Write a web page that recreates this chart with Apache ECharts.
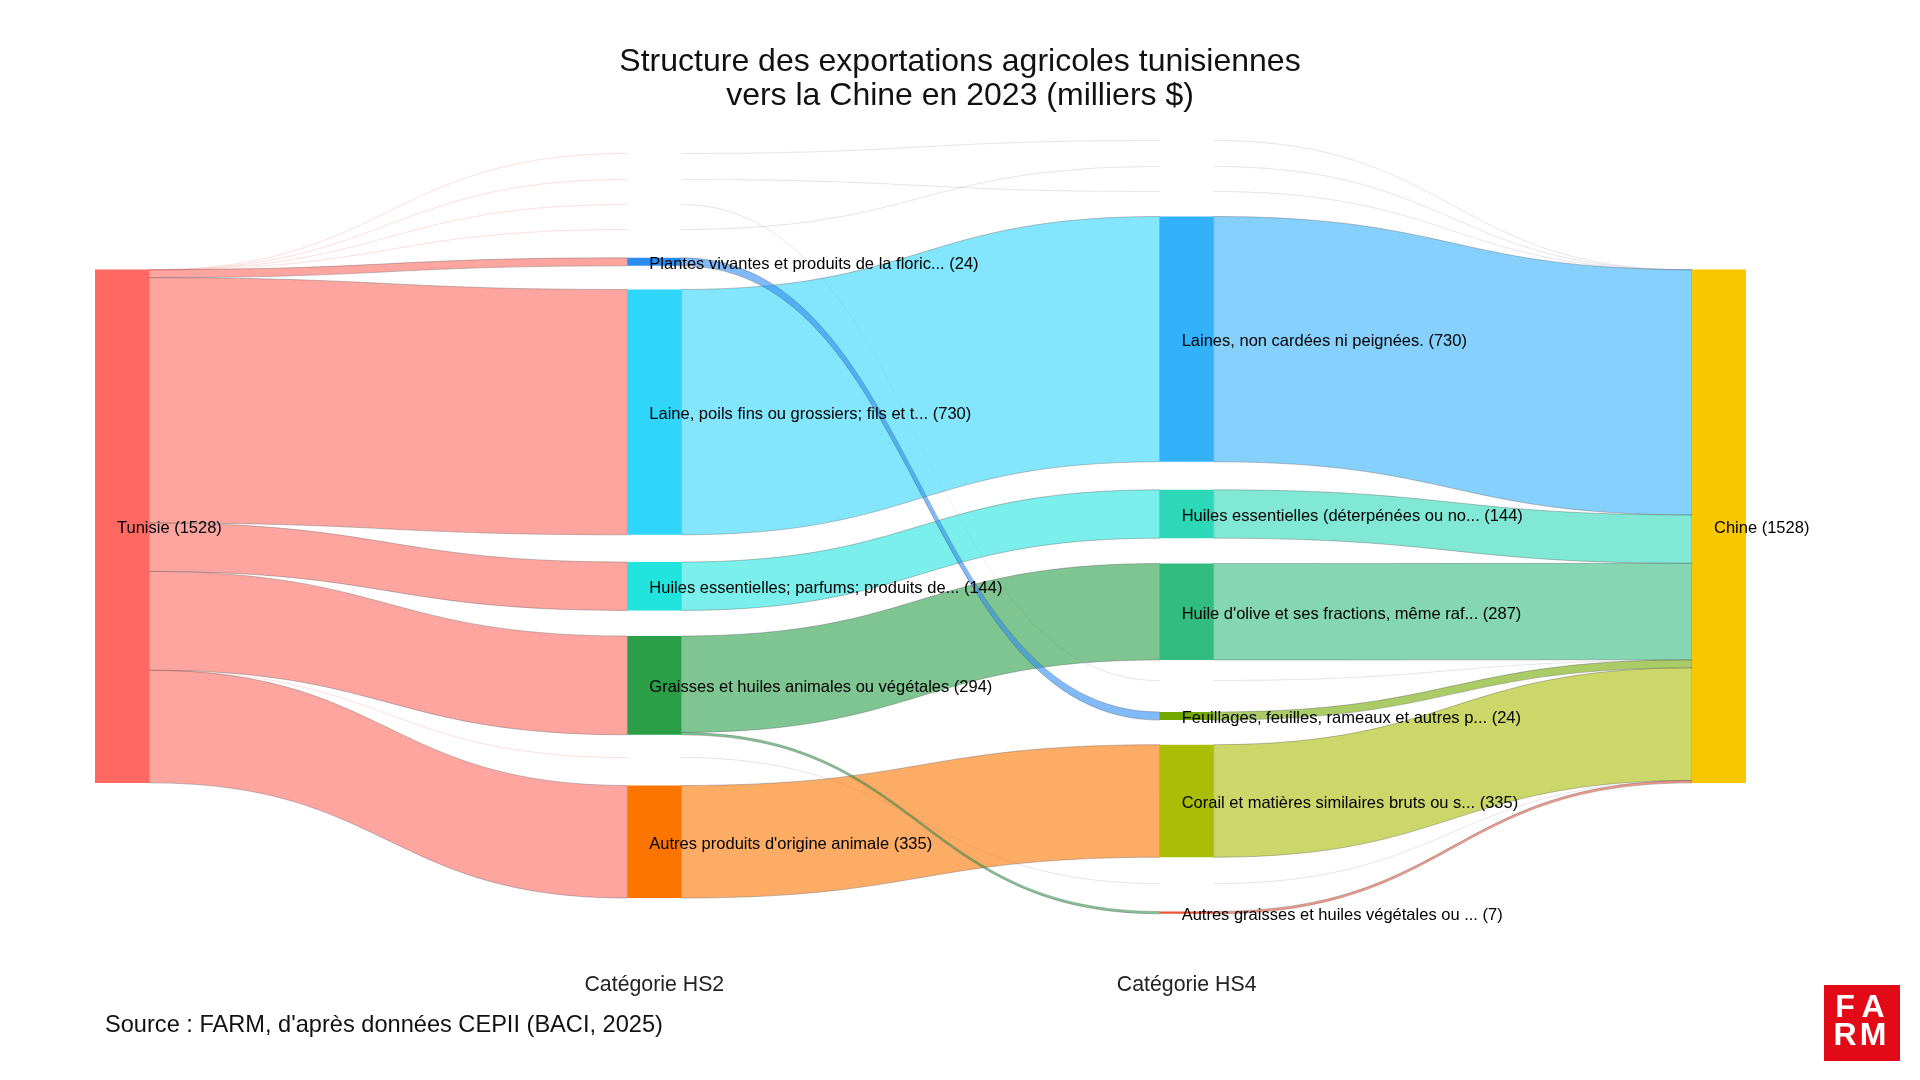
<!DOCTYPE html>
<html>
<head>
<meta charset="utf-8">
<script src="https://cdn.jsdelivr.net/npm/echarts@6/dist/echarts.min.js"></script>
<style>
html,body{margin:0;padding:0;background:#ffffff;}
#chart{width:1920px;height:1080px;}
</style>
</head>
<body>
<div id="chart"></div>
<script>
// ---------------- DATA ----------------
const titleLines = ['Structure des exportations agricoles tunisiennes', 'vers la Chine en 2023 (milliers $)'];
const originName = 'Tunisie';
const destinationName = 'Chine';
const totalValue = 1528;

const hs2Names = [
  'Plantes vivantes et produits de la floric...',
  'Laine, poils fins ou grossiers; fils et t...',
  'Huiles essentielles; parfums; produits de...',
  'Graisses et huiles animales ou végétales',
  "Autres produits d'origine animale"
];
const hs2Values = [24, 730, 144, 294, 335];

const hs4Names = [
  'Laines, non cardées ni peignées.',
  'Huiles essentielles (déterpénées ou no...',
  "Huile d'olive et ses fractions, même raf...",
  'Feuillages, feuilles, rameaux et autres p...',
  'Corail et matières similaires bruts ou s...',
  'Autres graisses et huiles végétales ou ...'
];
const hs4Values = [730, 144, 287, 24, 335, 7];

// HS2 index -> HS4 index, value (drawing order)
const hs2ToHs4 = [[1, 0, 730], [2, 1, 144], [4, 4, 335], [3, 2, 287], [0, 3, 24], [3, 5, 7]];

// near-zero flows (unlabelled)
const minorHs2 = ['hs2-a', 'hs2-b', 'hs2-c', 'hs2-d', 'hs2-e'];
const minorHs4 = ['hs4-a', 'hs4-b', 'hs4-c', 'hs4-d', 'hs4-e'];
const minorValue = 0.1;
const minorHs2ToHs4 = [[0, 0], [1, 2], [2, 3], [3, 1], [4, 4]];

const columnTitles = ['Catégorie HS2', 'Catégorie HS4'];
const sourceNote = "Source : FARM, d'après données CEPII (BACI, 2025)";
const logoLetters = [['F', 'A'], ['R', 'M']];

// ---------------- LAYOUT / STYLE ----------------
const FONT = '"Liberation Sans", Arial, Helvetica, sans-serif';
const plot = { left: 95, top: 269.5, width: 1651, height: 513.5, nodeWidth: 54 };
const nodeTopPx = {
  origin: 269.5,
  destination: 269.5,
  hs2: [257.8, 289.5, 562, 636, 785.5],
  hs4: [216.5, 489.8, 563.5, 712, 744.7, 911.5],
  minorHs2: [153, 179, 204, 229, 757],
  minorHs4: [140, 166, 191, 680, 883]
};
const colors = {
  origin: '#FF6961',
  destination: '#F9C700',
  hs2: ['#2B8CF3', '#30D5FA', '#21E4DF', '#2A9F48', '#FC7500'],
  hs4: ['#33B1FB', '#2DD8B9', '#33BC80', '#72A800', '#A9BE05', '#EC5434'],
  minor: '#8E86A8'
};

// ---------------- BUILD ----------------
const localY = px => (px - plot.top) / plot.height;
const columns = [[], [], [], []];
function node(name, value, color, top, depth, show) {
  columns[depth].push({
    name, value, depth, localY: localY(top), _top: top,
    itemStyle: { color },
    label: { show }
  });
}
node(originName, totalValue, colors.origin, nodeTopPx.origin, 0, true);
hs2Names.forEach((n, i) => node(n, hs2Values[i], colors.hs2[i], nodeTopPx.hs2[i], 1, true));
minorHs2.forEach((n, i) => node(n, minorValue, colors.minor, nodeTopPx.minorHs2[i], 1, false));
hs4Names.forEach((n, i) => node(n, hs4Values[i], colors.hs4[i], nodeTopPx.hs4[i], 2, true));
minorHs4.forEach((n, i) => node(n, minorValue, colors.minor, nodeTopPx.minorHs4[i], 2, false));
node(destinationName, totalValue, colors.destination, nodeTopPx.destination, 3, true);
const nodes = [];
columns.forEach(col => {
  col.sort((a, b) => a._top - b._top);
  col.forEach(d => { delete d._top; nodes.push(d); });
});

const minorStyle = { opacity: 0.22, borderWidth: 0 };
const links = [];
minorHs2.forEach(n => links.push({ source: originName, target: n, value: minorValue, lineStyle: minorStyle }));
minorHs2ToHs4.forEach(([a, b]) => links.push({ source: minorHs2[a], target: minorHs4[b], value: minorValue, lineStyle: minorStyle }));
minorHs4.forEach(n => links.push({ source: n, target: destinationName, value: minorValue, lineStyle: minorStyle }));
hs2Names.forEach((n, i) => links.push({ source: originName, target: n, value: hs2Values[i] }));
hs4Names.forEach((n, i) => links.push({ source: n, target: destinationName, value: hs4Values[i] }));
hs2ToHs4.forEach(([a, b, v]) => links.push({ source: hs2Names[a], target: hs4Names[b], value: v }));

const kx = (plot.width - plot.nodeWidth) / 3;
const colCenter = d => plot.left + d * kx + plot.nodeWidth / 2;

const logo = { x: 1824, y: 985, size: 76 };
const logoText = (t, dx, dy) => ({
  type: 'text', x: logo.x + dx, y: logo.y + dy,
  style: { text: t, fontFamily: FONT, fontSize: 32, fontWeight: 'bold', fill: '#fff', align: 'center', verticalAlign: 'middle' }
});

const chart = echarts.init(document.getElementById('chart'), null, { renderer: 'canvas' });
chart.setOption({
  backgroundColor: '#ffffff',
  animation: false,
  title: {
    text: titleLines.join('\n'),
    left: 'center',
    top: 40,
    textStyle: { fontFamily: FONT, fontSize: 32, fontWeight: 'normal', color: '#111', lineHeight: 34 }
  },
  series: [{
    type: 'sankey',
    left: plot.left, top: plot.top, width: plot.width, height: plot.height,
    nodeWidth: plot.nodeWidth,
    nodeGap: 0,
    layoutIterations: 0,
    draggable: false,
    emphasis: { disabled: true },
    itemStyle: { borderWidth: 0 },
    label: {
      position: 'insideLeft', distance: 22, offset: [0, 2.5],
      fontFamily: FONT, fontSize: 16.5, color: '#000',
      formatter: p => p.name + ' (' + p.value + ')'
    },
    lineStyle: { color: 'source', opacity: 0.6, curveness: 0.5, borderColor: '#555', borderWidth: 0.6 },
    data: nodes,
    links: links
  }],
  graphic: [
    { type: 'text', x: colCenter(1), y: 985, style: { text: columnTitles[0], fontFamily: FONT, fontSize: 21.3, fill: '#222', align: 'center', verticalAlign: 'middle' } },
    { type: 'text', x: colCenter(2), y: 985, style: { text: columnTitles[1], fontFamily: FONT, fontSize: 21.3, fill: '#222', align: 'center', verticalAlign: 'middle' } },
    { type: 'text', x: 105, y: 1025, style: { text: sourceNote, fontFamily: FONT, fontSize: 23.6, fill: '#111', align: 'left', verticalAlign: 'middle' } },
    { type: 'rect', shape: { x: logo.x, y: logo.y, width: logo.size, height: logo.size }, style: { fill: '#E30A17' } },
    logoText(logoLetters[0][0], 21, 23),
    logoText(logoLetters[0][1], 49, 23),
    logoText(logoLetters[1][0], 21, 51),
    logoText(logoLetters[1][1], 49, 51)
  ]
});
</script>
</body>
</html>
